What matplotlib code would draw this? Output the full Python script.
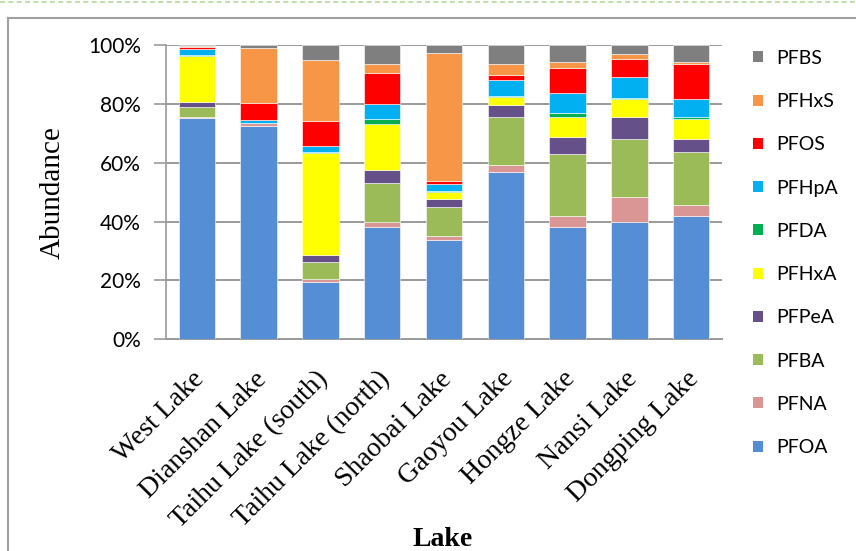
import matplotlib
matplotlib.use("Agg")
import matplotlib.pyplot as plt
import matplotlib.transforms as mtransforms
import numpy as np
from matplotlib.lines import Line2D
from matplotlib.patches import Patch

lakes = ["West Lake", "Dianshan Lake", "Taihu Lake (south)", "Taihu Lake (north)",
         "Shaobai Lake", "Gaoyou Lake", "Hongze Lake", "Nansi Lake", "Dongping Lake"]

# percentage abundance, bottom to top
PFOA  = [75.1, 72.5, 19.6, 38.3, 33.7, 56.9, 38.3, 40.0, 41.9]
PFNA  = [0.6, 0.9, 0.8, 1.7, 1.5, 2.4, 3.7, 8.2, 3.7]
PFBA  = [3.1, 0.0, 6.0, 13.2, 9.9, 16.2, 21.1, 19.9, 18.2]
PFPeA = [1.7, 0.0, 2.4, 4.3, 2.5, 4.2, 5.5, 7.4, 4.3]
PFHxA = [15.6, 0.0, 34.4, 15.5, 2.5, 2.7, 7.1, 6.2, 6.8]
PFDA  = [0.6, 0.2, 0.6, 1.9, 0.4, 0.4, 1.1, 0.4, 0.5]
PFHpA = [2.0, 0.8, 1.9, 5.1, 2.2, 5.3, 7.0, 7.1, 6.4]
PFOS  = [0.6, 6.0, 8.6, 10.4, 1.1, 1.7, 8.5, 6.2, 11.6]
PFHxS = [0.2, 18.7, 20.6, 3.1, 43.6, 3.7, 1.9, 1.4, 0.8]
PFBS  = [0.5, 0.8, 5.1, 6.5, 2.6, 6.5, 5.8, 3.2, 5.8]

series_names = ["PFOA", "PFNA", "PFBA", "PFPeA", "PFHxA", "PFDA", "PFHpA", "PFOS", "PFHxS", "PFBS"]
series_vals = [PFOA, PFNA, PFBA, PFPeA, PFHxA, PFDA, PFHpA, PFOS, PFHxS, PFBS]
colors = ["#558ED5", "#D99694", "#9BBB59", "#66508A", "#FFFF00", "#00B050",
          "#00B0F0", "#FF0000", "#F79646", "#7F7F7F"]

W, H = 856, 551
fig = plt.figure(figsize=(W / 100, H / 100), dpi=100)
ax = fig.add_axes([166 / W, 1 - 339.3 / H, 556 / W, 294.3 / H])

x = np.arange(len(lakes))
bottom = np.zeros(len(lakes))
for name, vals, c in zip(series_names, series_vals, colors):
    v = np.array(vals)
    ax.bar(x, v, 0.59, bottom=bottom, color=c, edgecolor="white", linewidth=0.4,
           label=name, zorder=3)
    bottom += v

ax.set_xlim(-0.5, len(lakes) - 0.5)
ax.set_ylim(0, 100)
ax.set_yticks([0, 20, 40, 60, 80, 100])
ax.set_yticklabels(["0%", "20%", "40%", "60%", "80%", "100%"],
                   fontfamily="Lato", fontsize=15)
ax.yaxis.grid(True, color="#9a9a9a", linewidth=1.4, zorder=0)
ax.tick_params(axis="y", length=9, width=1.2, color="#9a9a9a", pad=9)
ax.tick_params(axis="x", length=0, pad=26)
ax.set_xticks(x)
ax.set_xticklabels(lakes, rotation=45, ha="right", va="center", rotation_mode="anchor",
                   fontfamily="Liberation Serif", fontsize=20)
offset = mtransforms.ScaledTranslation(4 / 100, 0, fig.dpi_scale_trans)
for lbl in ax.get_xticklabels():
    lbl.set_transform(lbl.get_transform() + offset)
for sp in ["top", "right"]:
    ax.spines[sp].set_visible(False)
ax.spines["left"].set_color("#9a9a9a")
ax.spines["left"].set_linewidth(1.2)
ax.spines["bottom"].set_color("#9a9a9a")
ax.spines["bottom"].set_linewidth(1.4)

fig.text(53 / W, 1 - 193 / H, "Abundance", rotation=90, ha="center", va="center",
         fontfamily="Liberation Serif", fontsize=21)
fig.text(443 / W, 1 - 540 / H, "Lake", ha="center", va="center",
         fontfamily="Liberation Serif", fontsize=20, fontweight="bold")

handles = [Patch(facecolor=c, edgecolor="none") for c in colors][::-1]
labels = series_names[::-1]
leg = fig.legend(handles, labels, loc="upper left", bbox_to_anchor=(745 / W, 1 - 42 / H),
                 frameon=False, prop={"family": "Lato", "size": 14},
                 handlelength=0.5, handleheight=0.5, handletextpad=0.7,
                 labelspacing=1.35, borderaxespad=0)

# outer frame lines
fig.add_artist(Line2D([8 / W, 1], [1 - 18 / H, 1 - 18 / H], color="#a0a0a0", linewidth=1.5,
                      transform=fig.transFigure))
fig.add_artist(Line2D([8 / W, 8 / W], [0, 1 - 18 / H], color="#a0a0a0", linewidth=1.5,
                      transform=fig.transFigure))
fig.add_artist(Line2D([0, 1], [1 - 2 / H, 1 - 2 / H], color="#b5d99c", linewidth=1.2,
                      linestyle=(0, (3, 2)), transform=fig.transFigure))

fig.savefig("out.png", dpi=100)
